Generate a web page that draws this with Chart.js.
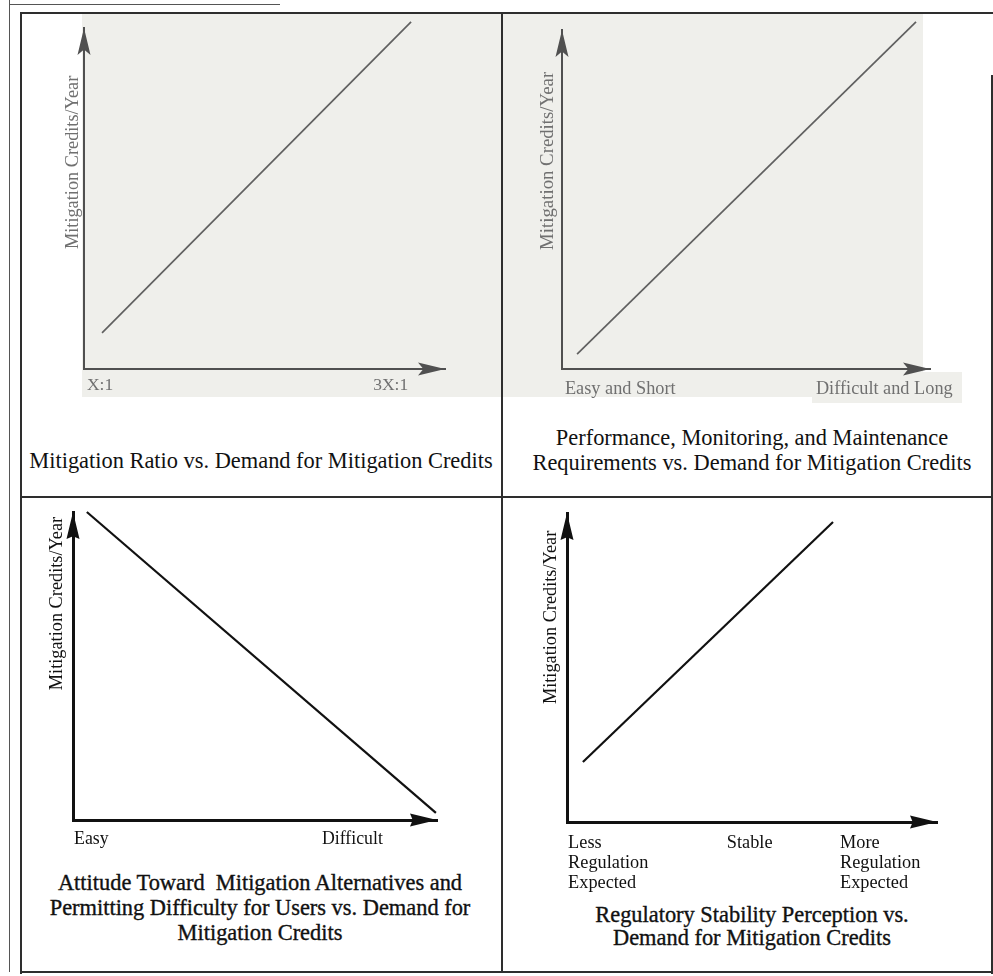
<!DOCTYPE html>
<html>
<head>
<meta charset="utf-8">
<script src="https://cdn.jsdelivr.net/npm/chart.js@4"></script>
<style>
  body { margin: 0; background: #fff; }
  #page { position: relative; width: 993px; height: 976px; overflow: hidden; font-family: "Liberation Serif", serif; }
  .ln  { position: absolute; background: #2e2e2e; }
  .bg  { position: absolute; background: #efefeb; }
  .cv  { position: absolute; }
  .cap { position: absolute; text-align: center; font-size: 22.4px; color: #111; }
  .ink { -webkit-text-stroke: 0.35px #111; }
</style>
</head>
<body>
<div id="page">
  <!-- grey boxes behind the two top panels -->
  <div class="bg" style="left:82px;top:14px;width:420px;height:383px"></div>
  <div class="bg" style="left:503px;top:14px;width:420px;height:383px"></div>
  <div class="bg" style="left:812px;top:372px;width:150px;height:31px"></div>

  <!-- frame -->
  <div class="ln" style="left:9px;top:0;width:1px;height:972px;background:#555"></div>
  <div class="ln" style="left:10px;top:4px;width:270px;height:1px;background:#555"></div>
  <div class="ln" style="left:20px;top:12px;width:973px;height:2px"></div>
  <div class="ln" style="left:20px;top:12px;width:2px;height:962px"></div>
  <div class="ln" style="left:991px;top:75px;width:2px;height:899px"></div>
  <div class="ln" style="left:20px;top:971px;width:973px;height:2px"></div>
  <div class="ln" style="left:501px;top:12px;width:2px;height:961px"></div>
  <div class="ln" style="left:20px;top:496px;width:973px;height:2px"></div>

  <canvas id="c1" class="cv" width="480" height="400" style="left:21px;top:13px"></canvas>
  <canvas id="c2" class="cv" width="488" height="400" style="left:503px;top:13px"></canvas>
  <canvas id="c3" class="cv" width="480" height="362" style="left:21px;top:498px"></canvas>
  <canvas id="c4" class="cv" width="488" height="400" style="left:503px;top:498px"></canvas>

  <div class="cap" style="left:20px;width:482px;top:448px;line-height:25px">Mitigation Ratio vs. Demand for Mitigation Credits</div>
  <div class="cap" style="left:507px;width:490px;top:425px;line-height:25px">Performance, Monitoring, and Maintenance<br>Requirements vs. Demand for Mitigation Credits</div>
  <div class="cap ink" style="left:20px;width:480px;top:870px;line-height:25px">Attitude Toward&nbsp; Mitigation Alternatives and<br>Permitting Difficulty for Users vs. Demand for<br>Mitigation Credits</div>
  <div class="cap ink" style="left:507px;width:490px;top:903px;line-height:23px">Regulatory Stability Perception vs.<br>Demand for Mitigation Credits</div>
</div>
<script>
const FONT = '"Liberation Serif", serif';
const Y_TITLE = 'Mitigation Credits/Year';

// values on a 0..100 scale, axis origin to arrow tip

// panel 1: mitigation ratio
const p1TickVals   = [0.8, 80.1];
const p1TickLabels = ['X:1', '3X:1'];
const p1X = [5.0, 90.6];
const p1Y = [10.6, 101.8];

// panel 2: performance / monitoring requirements
const p2TickVals   = [0.8, 69.0];
const p2TickLabels = ['Easy and Short', 'Difficult and Long'];
const p2X = [4.1, 96.2];
const p2Y = [4.4, 102.4];

// panel 3: attitude toward alternatives
const p3TickVals   = [0.3, 68.4];
const p3TickLabels = ['Easy', 'Difficult'];
const p3X = [3.8, 99.7];
const p3Y = [100, 2.3];

// panel 4: regulatory stability
const p4TickVals   = [0.3, 43.2, 73.8];
const p4TickLabels = [['Less', 'Regulation', 'Expected'], 'Stable', ['More', 'Regulation', 'Expected']];
const p4X = [4.3, 71.9];
const p4Y = [19.4, 97.1];

const greyStyle = { axis: '#505050', axisW: 2, line: '#606060', lineW: 1.7, text: '#707070',
                    arrowLen: 27, arrowHalf: 6.5, notch: 0.8, titleW: 'normal' };
const inkStyle  = { axis: '#111', axisW: 3, line: '#111', lineW: 2.2, text: '#111',
                    arrowLen: 27, arrowHalf: 6.5, notch: 0.9, titleW: 'normal' };

function arrowHead(ctx, x, y, dir, st) {
  const L = st.arrowLen, H = st.arrowHalf, N = L * st.notch;
  ctx.save();
  ctx.fillStyle = st.axis;
  ctx.beginPath();
  if (dir === 'right') {
    ctx.moveTo(x, y);
    ctx.lineTo(x - L, y - H);
    ctx.lineTo(x - N, y);
    ctx.lineTo(x - L, y + H);
  } else {
    ctx.moveTo(x, y);
    ctx.lineTo(x - H, y + L);
    ctx.lineTo(x, y + N);
    ctx.lineTo(x + H, y + L);
  }
  ctx.closePath();
  ctx.fill();
  ctx.restore();
}

function makeChart(id, xs, ys, tickVals, tickLabels, st) {
  const pts = xs.map((x, i) => ({ x, y: ys[i] }));
  const decor = {
    id: 'decor',
    afterDraw(chart) {
      const { ctx } = chart;
      const sx = chart.scales.x, sy = chart.scales.y;
      const ox = sx.getPixelForValue(0), oy = sy.getPixelForValue(0);
      arrowHead(ctx, sx.getPixelForValue(100), oy, 'right', st);
      arrowHead(ctx, ox, sy.getPixelForValue(100), 'up', st);
      ctx.save();
      ctx.translate(ox - st.titleGap, sy.getPixelForValue(st.titleAt));
      ctx.rotate(-Math.PI / 2);
      ctx.fillStyle = st.text;
      ctx.font = `${st.titleSize}px ${FONT}`;
      ctx.textAlign = 'center';
      ctx.textBaseline = 'middle';
      ctx.fillText(Y_TITLE, 0, 0);
      ctx.restore();
    }
  };
  return new Chart(document.getElementById(id), {
    type: 'line',
    data: { datasets: [{ data: pts, borderColor: st.line, borderWidth: st.lineW,
                         pointRadius: 0, tension: 0, clip: false, fill: false }] },
    options: {
      responsive: false, animation: false, events: [],
      layout: { padding: { top: st.padTop, right: st.padRight, left: 0, bottom: 0 } },
      plugins: { legend: { display: false }, tooltip: { enabled: false } },
      scales: {
        x: {
          type: 'linear', min: 0, max: 100,
          grid: { display: false, drawTicks: false },
          border: { display: true, color: st.axis, width: st.axisW },
          afterBuildTicks: s => { s.ticks = tickVals.map(v => ({ value: v })); },
          afterFit: s => { s.height = st.xH; s.paddingLeft = 0; s.paddingRight = 0; },
          ticks: {
            autoSkip: false, maxRotation: 0, minRotation: 0, align: 'start',
            padding: st.tickPad, color: st.text,
            font: { family: FONT, size: st.tickSize, lineHeight: st.tickLH },
            callback: (v, i) => tickLabels[i]
          }
        },
        y: {
          type: 'linear', min: 0, max: 100,
          grid: { display: false, drawTicks: false },
          border: { display: true, color: st.axis, width: st.axisW },
          ticks: { display: false },
          afterFit: s => { s.width = st.yW; s.paddingTop = 0; s.paddingBottom = 0; }
        }
      }
    },
    plugins: [decor]
  });
}

makeChart('c1', p1X, p1Y, p1TickVals, p1TickLabels, { ...greyStyle,
  padTop: 15, padRight: 56, yW: 63, xH: 44,
  tickSize: 17.5, tickLH: 1.2, tickPad: 6, titleSize: 18.3, titleAt: 60.6, titleGap: 11 });

makeChart('c2', p2X, p2Y, p2TickVals, p2TickLabels, { ...greyStyle,
  padTop: 17, padRight: 61, yW: 59, xH: 44,
  tickSize: 18.3, tickLH: 1.2, tickPad: 9, titleSize: 18.8, titleAt: 61.4, titleGap: 14 });

makeChart('c3', p3X, p3Y, p3TickVals, p3TickLabels, { ...inkStyle,
  padTop: 14, padRight: 64, yW: 52, xH: 40,
  tickSize: 17.8, tickLH: 1.2, tickPad: 8.5, titleSize: 18.3, titleAt: 70.3, titleGap: 16 });

makeChart('c4', p4X, p4Y, p4TickVals, p4TickLabels, { ...inkStyle,
  padTop: 15, padRight: 54, yW: 64, xH: 76,
  tickSize: 18.3, tickLH: 1.1, tickPad: 11, titleSize: 18.3, titleAt: 66.2, titleGap: 16 });
</script>
</body>
</html>
